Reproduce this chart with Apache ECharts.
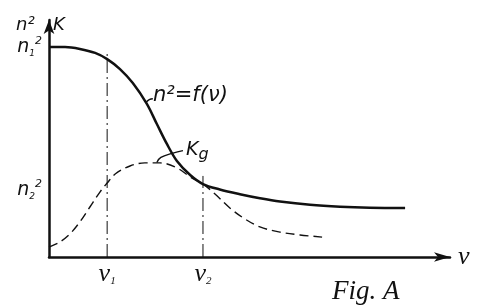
<!DOCTYPE html>
<html><head><meta charset="utf-8">
<script src="https://cdn.jsdelivr.net/npm/echarts@6/dist/echarts.min.js"></script>
<style>html,body{margin:0;padding:0;background:#fff}#c{width:490px;height:307px}</style>
</head><body><div id="c"></div>
<script>
// frequency marks
const xTickValues = [14.5, 38.4];
const xTickSubs = ['1', '2'];
// n1^2 and n2^2 levels
const yTickValues = [88.6, 28.3];
const yTickSubs = ['1', '2'];
// n^2 = f(nu)  (solid)
const nSquared = [[0,88.6],[4,88.6],[7.7,87.8],[11.5,86.1],[14.5,83.5],[17.7,79.3],[20.9,73.4],[24.4,64.6],[26.9,56.1],[29.4,47.7],[31.9,40.5],[35.2,34.6],[38.4,30.8],[42.6,28.5],[47.6,26.5],[52.6,24.8],[57.6,23.4],[65.1,22.0],[72.6,21.2],[80,20.8],[88.8,20.7]];
// K (dashed)
const kappa = [[0,4.2],[2.7,6.3],[5.2,9.7],[7.7,14.8],[10.2,21.1],[12.7,27.4],[14.5,31.2],[16.5,35.0],[20.2,38.4],[23.9,39.7],[27.7,39.7],[31.9,37.6],[35.2,33.8],[38.4,30.8],[41.4,26.6],[45.1,20.7],[48.9,16.0],[52.6,12.7],[57.6,10.5],[62.6,9.3],[68.1,8.4]];
// vertical guide tops at nu1, nu2
const guideTops = [86.5, 34.2];
// leader from K peak to label Kg
const kgLeader = [[26.9,39.9],[27.9,42.0],[30.7,43.7],[33.4,44.9]];
// leader from curve to label n^2=f(nu)
const nLeader = [[24.2,65.2],[25.0,66.4],[25.9,66.8]];

const chart = echarts.init(document.getElementById('c'));
const ink = '#111';
const guides = xTickValues.map((x, i) => ({
  type: 'line', data: [[x, 0], [x, guideTops[i]]], showSymbol: false, silent: true,
  lineStyle: { color: ink, width: 1, type: [13, 4, 2, 4] }
}));
chart.setOption({
  backgroundColor: '#fff',
  animation: false,
  grid: { left: 49, right: 40, top: 20, bottom: 50 },
  xAxis: {
    type: 'value', min: 0, max: 100,
    splitLine: { show: false }, axisTick: { show: false },
    axisLine: { lineStyle: { color: ink, width: 2.5 }, symbol: ['none', 'arrow'], symbolSize: [7, 16] },
    axisLabel: {
      customValues: xTickValues, margin: 4,
      formatter: v => '{v|ν}{s|' + xTickSubs[xTickValues.indexOf(v)] + '}',
      rich: {
        v: { color: ink, fontSize: 26, lineHeight: 26, fontStyle: 'italic', fontFamily: 'Liberation Serif' },
        s: { color: ink, fontSize: 11, verticalAlign: 'bottom', lineHeight: 24, fontStyle: 'italic', fontFamily: 'Liberation Serif' }
      }
    },
    name: 'ν', nameGap: 8,
    nameTextStyle: { color: ink, fontSize: 26, fontStyle: 'italic', fontFamily: 'Liberation Serif', padding: [0, 0, 4, 0] }
  },
  yAxis: {
    type: 'value', min: 0, max: 100,
    splitLine: { show: false }, axisTick: { show: false },
    axisLine: { lineStyle: { color: ink, width: 2.5 }, symbol: ['none', 'arrow'], symbolSize: [8, 14] },
    axisLabel: {
      customValues: yTickValues, margin: 7,
      formatter: v => '{n|n}{s|' + yTickSubs[yTickValues.indexOf(v)] + '}{p|2}',
      rich: {
        n: { color: ink, fontSize: 19, lineHeight: 22, fontStyle: 'italic', fontFamily: 'DejaVu Sans' },
        s: { color: ink, fontSize: 9, verticalAlign: 'bottom', lineHeight: 22, fontStyle: 'italic', fontFamily: 'DejaVu Sans' },
        p: { color: ink, fontSize: 11, verticalAlign: 'top', lineHeight: 22, fontStyle: 'italic', fontFamily: 'DejaVu Sans' }
      }
    }
  },
  title: {
    text: 'Fig. A', left: 327, top: 273,
    textStyle: { color: ink, fontSize: 27, fontStyle: 'italic', fontWeight: 'normal', fontFamily: 'Liberation Serif' }
  },
  graphic: [
    { type: 'text', left: 16, top: 16, style: { text: 'n²', fill: ink, font: 'italic 18px "DejaVu Sans"' } },
    { type: 'text', left: 53, top: 16, style: { text: 'K', fill: ink, font: 'italic 18px "DejaVu Sans"' } },
    { type: 'text', left: 153, top: 85, style: { text: 'n²=f(ν)', fill: ink, font: 'italic 21px "DejaVu Sans"' } },
    { type: 'text', left: 186, top: 141, style: {
      text: '{k|K}{g|g}',
      rich: {
        k: { fill: ink, font: 'italic 19px "DejaVu Sans"', lineHeight: 24 },
        g: { fill: ink, font: 'italic 16px "DejaVu Sans"', verticalAlign: 'bottom', lineHeight: 24 }
      } } }
  ],
  series: [
    { type: 'line', data: nSquared, smooth: 0.35, showSymbol: false, silent: true,
      lineStyle: { color: ink, width: 2.5 } },
    { type: 'line', data: kappa, smooth: 0.35, showSymbol: false, silent: true,
      lineStyle: { color: ink, width: 1.4, type: [9, 5] } },
    { type: 'line', data: kgLeader, smooth: 0.5, showSymbol: false, silent: true,
      lineStyle: { color: ink, width: 1.4 } },
    { type: 'line', data: nLeader, smooth: 0.5, showSymbol: false, silent: true,
      lineStyle: { color: ink, width: 1.4 } },
    ...guides
  ]
});
</script></body></html>
